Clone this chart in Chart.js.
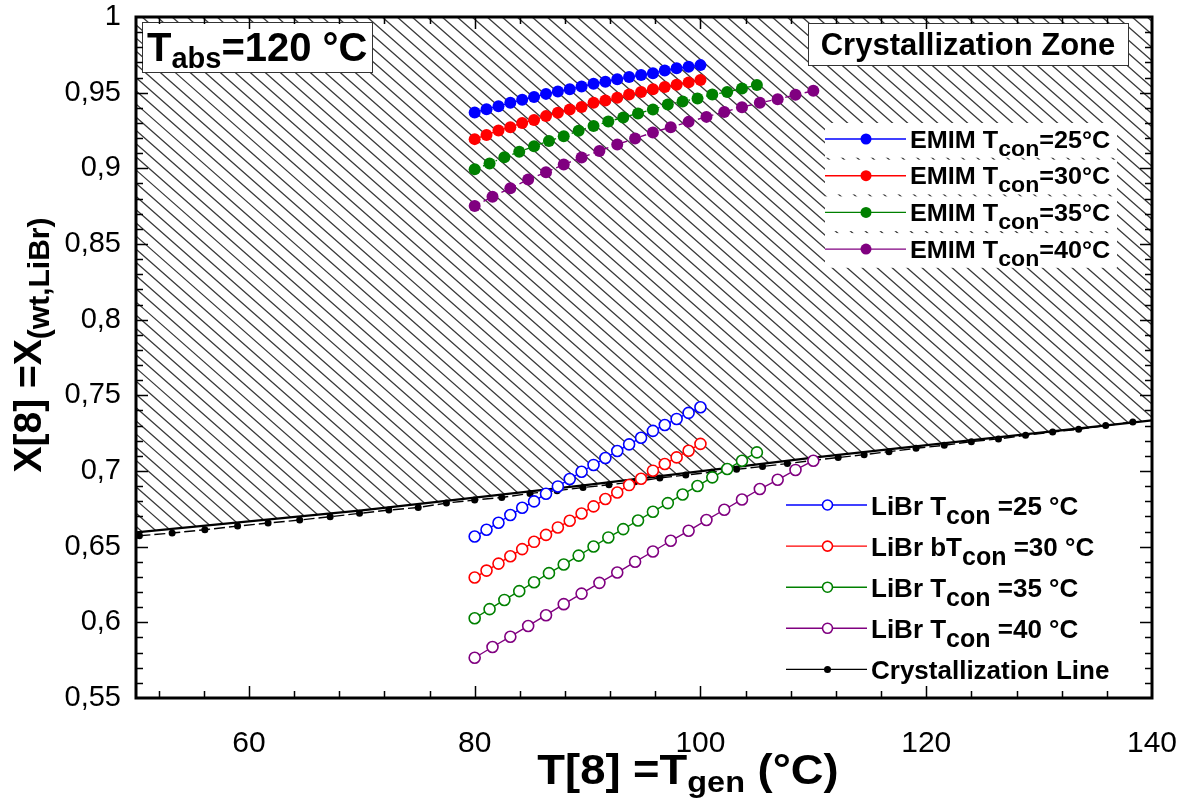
<!DOCTYPE html>
<html lang="en">
<head>
<meta charset="UTF-8">
<title>Crystallization zone | X[8] x T[8]</title>
<script src="https://cdn.jsdelivr.net/npm/chart.js"></script>
<style>
    html, body { margin: 0; padding: 0; background: #fff; }
    canvas { display: block; }
</style>
</head>
<body>
<canvas id="grafico" width="1181" height="798"></canvas>
<script>
    // Temperaturas do gerador (20 pontos em cada corrida)
    const tgen80a100 = [80, 81.05, 82.11, 83.16, 84.21, 85.26, 86.32, 87.37, 88.42, 89.47, 90.53, 91.58, 92.63, 93.68, 94.74, 95.79, 96.84, 97.89, 98.95, 100];
    const tgen80a105 = [80, 81.32, 82.63, 83.95, 85.26, 86.58, 87.89, 89.21, 90.53, 91.84, 93.16, 94.47, 95.79, 97.11, 98.42, 99.74, 101.05, 102.37, 103.68, 105];
    const tgen80a110 = [80, 81.58, 83.16, 84.74, 86.32, 87.89, 89.47, 91.05, 92.63, 94.21, 95.79, 97.37, 98.95, 100.53, 102.11, 103.68, 105.26, 106.84, 108.42, 110];

    // EMIM (circulos cheios)
    const emim25 = [0.9369, 0.9391, 0.9411, 0.9433, 0.9453, 0.9471, 0.9492, 0.9508, 0.9523, 0.9541, 0.9559, 0.9572, 0.9588, 0.9603, 0.9616, 0.9629, 0.9647, 0.9662, 0.9671, 0.9682];
    const emim30 = [0.9193, 0.9221, 0.9250, 0.9272, 0.9300, 0.9320, 0.9345, 0.9367, 0.9389, 0.9406, 0.9433, 0.9449, 0.9466, 0.9488, 0.9504, 0.9522, 0.9537, 0.9552, 0.9568, 0.9583];
    const emim35 = [0.8994, 0.9032, 0.9073, 0.9109, 0.9146, 0.9181, 0.9212, 0.9248, 0.9279, 0.9310, 0.9336, 0.9363, 0.9389, 0.9422, 0.9442, 0.9462, 0.9488, 0.9504, 0.9528, 0.9550];
    const emim40 = [0.8751, 0.8813, 0.8868, 0.8926, 0.8974, 0.9025, 0.9071, 0.9115, 0.9158, 0.9197, 0.9237, 0.9272, 0.9307, 0.9340, 0.9373, 0.9404, 0.9433, 0.9457, 0.9486, 0.9512];

    // LiBr (circulos vazios)
    const libr25 = [0.6567, 0.6612, 0.6658, 0.6709, 0.6757, 0.6799, 0.6850, 0.6898, 0.6947, 0.6995, 0.7040, 0.7086, 0.7132, 0.7176, 0.7220, 0.7265, 0.7304, 0.7344, 0.7384, 0.7421];
    const libr30 = [0.6296, 0.6342, 0.6388, 0.6437, 0.6484, 0.6532, 0.6578, 0.6627, 0.6671, 0.6719, 0.6766, 0.6815, 0.6858, 0.6907, 0.6949, 0.7002, 0.7046, 0.7090, 0.7134, 0.7179];
    const libr35 = [0.6027, 0.6087, 0.6148, 0.6206, 0.6265, 0.6325, 0.6382, 0.6441, 0.6501, 0.6561, 0.6616, 0.6673, 0.6731, 0.6788, 0.6845, 0.6901, 0.6958, 0.7013, 0.7068, 0.7123];
    const libr40 = [0.5766, 0.5837, 0.5905, 0.5976, 0.6047, 0.6120, 0.6190, 0.6261, 0.6329, 0.6400, 0.6468, 0.6539, 0.6605, 0.6676, 0.6744, 0.6812, 0.6881, 0.6942, 0.7007, 0.7068];

    // Linha de cristalizacao (pontos pretos) e limite da zona hachurada
    const crystT = [50.3, 53.2, 56.1, 59.0, 61.7, 64.5, 67.2, 69.8, 72.4, 75.0, 77.5, 80.0, 82.4, 84.9, 87.3, 89.6, 91.9, 94.2, 96.4, 98.7, 101.0, 103.2, 105.5, 107.7, 110.0, 112.2, 114.5, 116.7, 119.1, 121.6, 124.0, 126.4, 128.8, 131.2, 133.5, 135.9, 138.3];
    const crystX = [0.6572, 0.6590, 0.6612, 0.6636, 0.6656, 0.6676, 0.6698, 0.6720, 0.6742, 0.6759, 0.6788, 0.6808, 0.6825, 0.6852, 0.6870, 0.6891, 0.6909, 0.6929, 0.6954, 0.6973, 0.6992, 0.7011, 0.7030, 0.7049, 0.7070, 0.7089, 0.7108, 0.7128, 0.7150, 0.7170, 0.7194, 0.7212, 0.7236, 0.7258, 0.7276, 0.7300, 0.7324];
    const zoneT = [50, 70, 90, 110, 140];
    const zoneX = [0.6595, 0.6740, 0.6908, 0.7088, 0.7335];

    // Eixos
    const xTickValues = [60, 80, 100, 120, 140];
    const xTickLabels = ['60', '80', '100', '120', '140'];
    const yTickValues = [0.55, 0.6, 0.65, 0.7, 0.75, 0.8, 0.85, 0.9, 0.95, 1];
    const yTickLabels = ['0,55', '0,6', '0,65', '0,7', '0,75', '0,8', '0,85', '0,9', '0,95', '1'];

    const FONTE = "'Liberation Sans', Arial, sans-serif";
    const AZUL = '#0000ff', VERMELHO = '#ff0000', VERDE = '#008000', ROXO = '#800080';

    const pares = (xs, ys) => xs.map((v, i) => ({ x: v, y: ys[i] }));

    function serieEmim(label, xs, ys, cor, traco) {
        return {
            label, data: pares(xs, ys), showLine: true,
            borderColor: cor, backgroundColor: cor, borderWidth: 1.4, borderDash: traco,
            pointRadius: 6, pointBorderWidth: 0, pointBackgroundColor: cor
        };
    }
    function serieLibr(label, xs, ys, cor) {
        return {
            label, data: pares(xs, ys), showLine: true,
            borderColor: cor, backgroundColor: '#fff', borderWidth: 1.4,
            pointRadius: 5.5, pointBorderWidth: 1.6, pointBorderColor: cor, pointBackgroundColor: '#fff'
        };
    }

    // Texto com subscrito: "T_{con}"
    function textoRico(ctx, texto, x, y, o) {
        const tamSub = o.tamSub || o.tam * 0.72;
        const partes = texto.split(/(_\{[^}]*\})/).filter(p => p).map(p =>
            p.startsWith('_{') ? { t: p.slice(2, -1), s: true } : { t: p, s: false });
        ctx.save();
        ctx.translate(x, y);
        if (o.rot) ctx.rotate(o.rot);
        ctx.scale(o.sx || 1, 1);
        let larg = 0;
        partes.forEach(p => {
            ctx.font = `bold ${p.s ? tamSub : o.tam}px ${o.familia || FONTE}`;
            p.w = ctx.measureText(p.t).width;
            larg += p.w;
        });
        let cx = o.centro ? -larg / 2 : 0;
        ctx.fillStyle = '#000';
        ctx.textBaseline = 'alphabetic';
        ctx.textAlign = 'left';
        partes.forEach(p => {
            ctx.font = `bold ${p.s ? tamSub : o.tam}px ${o.familia || FONTE}`;
            ctx.fillText(p.t, cx, p.s ? o.desloc : 0);
            cx += p.w;
        });
        ctx.restore();
    }

    // Hachura da zona de cristalizacao
    const hachura = {
        id: 'hachura',
        beforeDatasetsDraw(chart) {
            const { ctx, chartArea: a, scales: { x, y } } = chart;
            ctx.save();
            ctx.beginPath();
            ctx.moveTo(a.left, a.top);
            ctx.lineTo(a.right, a.top);
            for (let i = zoneT.length - 1; i >= 0; i--) {
                ctx.lineTo(x.getPixelForValue(zoneT[i]), y.getPixelForValue(zoneX[i]));
            }
            ctx.closePath();
            ctx.clip();
            ctx.strokeStyle = '#3a3a3a';
            ctx.lineWidth = 1.3;
            const k = 0.88, passo = 15, h = a.bottom - a.top;
            ctx.beginPath();
            for (let c = a.left - h / k; c < a.right; c += passo) {
                ctx.moveTo(c, a.top);
                ctx.lineTo(c + h / k, a.bottom);
            }
            ctx.stroke();
            ctx.restore();
        }
    };

    // Legendas, caixas de texto, titulos dos eixos, moldura e marcas
    const extras = {
        id: 'extras',
        afterDatasetsDraw(chart) {
            const { ctx, chartArea: a, scales: { x, y } } = chart;
            const ds = chart.data.datasets;

            // legenda EMIM (fundo branco por linha)
            [0, 1, 2, 3].forEach((idx, i) => {
                const cy = 139 + i * 36.7;
                ctx.fillStyle = '#fff';
                ctx.fillRect(825, cy - 16, 292, 34.7);
                ctx.strokeStyle = ds[idx].borderColor;
                ctx.lineWidth = 1.4;
                ctx.beginPath(); ctx.moveTo(825, cy); ctx.lineTo(906, cy); ctx.stroke();
                ctx.fillStyle = ds[idx].borderColor;
                ctx.beginPath(); ctx.arc(866, cy, 5.5, 0, Math.PI * 2); ctx.fill();
                textoRico(ctx, ds[idx].label, 910, cy + 8.5, { tam: 24, tamSub: 22, desloc: 8, sx: 1.05 });
            });

            // legenda LiBr
            [4, 5, 6, 7, 8].forEach((idx, i) => {
                const cy = 505 + i * 41.1;
                ctx.strokeStyle = ds[idx].borderColor;
                ctx.lineWidth = 1.4;
                ctx.beginPath(); ctx.moveTo(786, cy); ctx.lineTo(867, cy); ctx.stroke();
                ctx.beginPath(); ctx.arc(827.5, cy, idx === 8 ? 3.5 : 5, 0, Math.PI * 2);
                if (idx === 8) { ctx.fillStyle = '#000'; ctx.fill(); }
                else { ctx.fillStyle = '#fff'; ctx.fill(); ctx.lineWidth = 1.6; ctx.stroke(); }
                textoRico(ctx, ds[idx].label, 871, cy + 9.5, { tam: 26, tamSub: 25, desloc: 9 });
            });

            // caixa T_abs
            ctx.fillStyle = '#fff';
            ctx.fillRect(142, 22, 230, 50);
            ctx.strokeStyle = '#333'; ctx.lineWidth = 1;
            ctx.strokeRect(142.5, 22.5, 230, 50);
            textoRico(ctx, 'T_{abs}=120 °C', 147, 61, { tam: 40, tamSub: 29, desloc: 7 });

            // caixa Crystallization Zone
            ctx.fillStyle = '#fff';
            ctx.fillRect(808, 23, 320, 42);
            ctx.strokeStyle = '#333';
            ctx.strokeRect(808.5, 23.5, 320, 42);
            textoRico(ctx, 'Crystallization Zone', 968, 55, { tam: 31, centro: true });

            // marcas internas nos quatro lados
            ctx.strokeStyle = '#000';
            ctx.lineWidth = 1.5;
            ctx.beginPath();
            for (let v = 52; v < 140; v += 4) {
                const px = Math.round(x.getPixelForValue(v)) + 0.5;
                const L = (v % 20 === 0) ? 12 : 7;
                ctx.moveTo(px, a.bottom); ctx.lineTo(px, a.bottom - L);
                ctx.moveTo(px, a.top); ctx.lineTo(px, a.top + L);
            }
            for (let n = 56; n < 100; n++) {
                const py = Math.round(y.getPixelForValue(n / 100)) + 0.5;
                const L = (n % 5 === 0) ? 12 : 7;
                ctx.moveTo(a.left, py); ctx.lineTo(a.left + L, py);
                ctx.moveTo(a.right, py); ctx.lineTo(a.right - L, py);
            }
            ctx.stroke();

            // moldura
            ctx.lineWidth = 3;
            ctx.strokeRect(a.left, a.top, a.right - a.left, a.bottom - a.top);

            // titulos dos eixos
            textoRico(ctx, 'T[8] =T_{gen} (°C)', 688, 784, { tam: 42, tamSub: 30, desloc: 8, centro: true, sx: 1.08 });
            textoRico(ctx, 'X[8] =X_{(wt,LiBr)}', 41, 345, { tam: 39, tamSub: 30, desloc: 8, centro: true, rot: -Math.PI / 2 });
        }
    };

    new Chart(document.getElementById('grafico'), {
        type: 'scatter',
        data: {
            datasets: [
                serieEmim('EMIM T_{con}=25°C', tgen80a100, emim25, AZUL),
                serieEmim('EMIM T_{con}=30°C', tgen80a100, emim30, VERMELHO),
                serieEmim('EMIM T_{con}=35°C', tgen80a105, emim35, VERDE, [6, 3, 1.5, 3]),
                serieEmim('EMIM T_{con}=40°C', tgen80a110, emim40, ROXO, [6, 4]),
                serieLibr('LiBr T_{con} =25 °C', tgen80a100, libr25, AZUL),
                serieLibr('LiBr bT_{con} =30 °C', tgen80a100, libr30, VERMELHO),
                serieLibr('LiBr T_{con} =35 °C', tgen80a105, libr35, VERDE),
                serieLibr('LiBr T_{con} =40 °C', tgen80a110, libr40, ROXO),
                {
                    label: 'Crystallization Line', data: pares(crystT, crystX), showLine: true,
                    borderColor: '#000', backgroundColor: '#000', borderWidth: 1.4, borderDash: [11, 4],
                    pointRadius: 3.5, pointBorderWidth: 0, pointBackgroundColor: '#000'
                },
                {
                    label: 'zona', data: pares(zoneT, zoneX), showLine: true,
                    borderColor: '#000', borderWidth: 2.2, pointRadius: 0
                }
            ]
        },
        options: {
            responsive: false,
            animation: false,
            layout: { padding: { left: 0, top: 17, right: 29, bottom: 0 } },
            plugins: { legend: { display: false }, tooltip: { enabled: false } },
            scales: {
                x: {
                    type: 'linear', min: 50, max: 140,
                    grid: { display: false }, border: { display: false },
                    afterBuildTicks: s => { s.ticks = xTickValues.map(v => ({ value: v })); },
                    afterFit: s => { s.height = 100; s.paddingLeft = 0; s.paddingRight = 0; },
                    ticks: {
                        padding: 20, color: '#000', maxRotation: 0,
                        font: { family: "'Liberation Sans Narrow', " + FONTE, size: 30 },
                        callback: (v, i) => xTickLabels[i]
                    }
                },
                y: {
                    type: 'linear', min: 0.55, max: 1,
                    grid: { display: false }, border: { display: false },
                    afterBuildTicks: s => { s.ticks = yTickValues.map(v => ({ value: v })); },
                    afterFit: s => { s.width = 136; s.paddingTop = 0; s.paddingBottom = 0; },
                    ticks: {
                        padding: 7, color: '#000',
                        font: { family: FONTE, size: 29 },
                        callback: (v, i) => yTickLabels[i]
                    }
                }
            }
        },
        plugins: [hachura, extras]
    });
</script>
</body>
</html>
